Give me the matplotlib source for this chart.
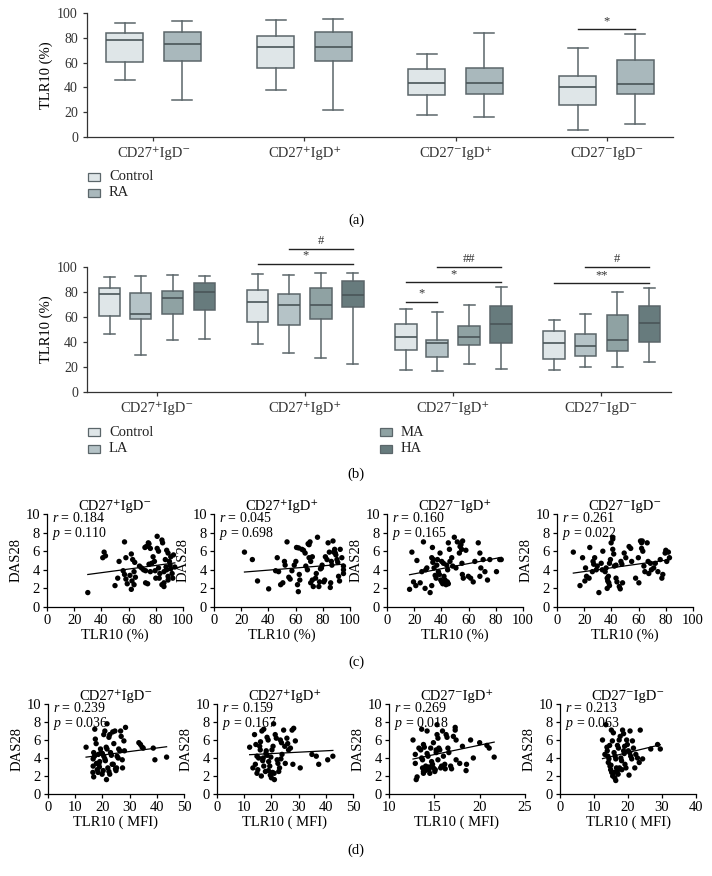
import numpy as np
import matplotlib
matplotlib.use('Agg')
import matplotlib.pyplot as plt
from matplotlib.patches import Rectangle

plt.rcParams['font.family'] = ['Liberation Serif', 'DejaVu Serif']
plt.rcParams['mathtext.fontset'] = 'custom'
plt.rcParams['mathtext.rm'] = 'Liberation Serif'
plt.rcParams['mathtext.it'] = 'Liberation Serif:italic'
plt.rcParams['axes.linewidth'] = 0.9
plt.rcParams['xtick.major.width'] = 0.9
plt.rcParams['ytick.major.width'] = 0.9

# ---------------- data ----------------
categories = ['CD27⁺IgD⁻', 'CD27⁺IgD⁺', 'CD27⁻IgD⁺', 'CD27⁻IgD⁻']

# (a) box stats per category: (whisker low, q1, median, q3, whisker high)
a_control = [(46.2, 60.5, 78.2, 83.6, 92.0), (38.2, 55.6, 72.3, 81.5, 94.4),
             (17.5, 33.6, 43.5, 54.8, 66.7), (5.9, 26.1, 40.3, 49.5, 72.0)]
a_ra = [(29.8, 61.3, 75.0, 84.7, 93.3), (21.8, 61.0, 72.3, 84.7, 95.4),
        (16.4, 34.7, 43.5, 55.4, 83.9), (10.8, 34.7, 42.7, 61.8, 83.0)]
a_sig = [(3, 0, 1, 87.0, '*')]  # (category, box i, box j, level, label)

# (b)
b_control = [(46.4, 60.6, 78.3, 83.6, 92.2), (38.3, 55.8, 72.4, 81.5, 94.1),
             (18.0, 33.8, 44.0, 54.7, 66.8), (18.0, 26.3, 39.1, 48.8, 57.6)]
b_la = [(30.0, 58.7, 62.2, 79.1, 92.5), (31.6, 53.9, 70.0, 78.3, 93.6),
        (16.6, 28.4, 38.9, 41.8, 63.8), (20.4, 29.2, 37.0, 46.6, 62.7)]
b_ma = [(41.8, 62.2, 75.1, 81.0, 93.3), (27.6, 58.2, 69.4, 83.4, 95.2),
        (22.3, 37.5, 43.7, 53.1, 70.0), (20.1, 33.2, 41.8, 61.7, 80.4)]
b_ha = [(42.1, 65.4, 80.4, 87.4, 92.5), (22.3, 67.8, 77.5, 88.5, 95.4),
        (18.2, 38.9, 54.2, 68.6, 83.9), (23.9, 39.7, 55.2, 68.6, 83.1)]
b_sig = [(1, 0, 3, 102.7, '*'), (1, 1, 3, 114.5, '#'),
         (2, 0, 1, 72.4, '*'), (2, 0, 3, 88.2, '*'), (2, 1, 3, 99.7, '##'),
         (3, 0, 3, 87.1, '**'), (3, 1, 3, 99.7, '#')]

# (c) DAS28 vs TLR10 (%)
c1_x = [30, 42, 41, 43, 50, 52, 53, 57, 56, 57, 58, 59, 58, 61, 62.5, 64, 62, 62, 63, 64.5, 64, 65, 68, 69.5,
        71, 72.5, 72, 73, 72.5, 74, 74.5, 75, 76, 75, 76, 77, 78, 79, 79.5, 80, 81, 81, 82, 82, 83, 82.5,
        84.5, 85, 84.5, 86, 86, 87, 87.5, 88, 88, 89, 90, 90.5, 91, 92, 92.5, 93, 94, 89, 89, 86, 91]
c1_y = [1.55, 5.9, 5.3, 5.5, 2.3, 3.1, 4.9, 7.0, 3.9, 3.5, 3.0, 2.5, 5.3, 3.4, 2.8, 2.4, 1.9, 5.7, 5.1, 4.8,
        3.8, 3.2, 4.4, 4.2, 4.0, 3.9, 6.4, 6.5, 2.6, 2.5, 6.9, 6.8, 6.3, 4.6, 3.8, 4.7, 5.4, 4.9, 3.9, 3.1,
        7.6, 6.3, 6.0, 4.2, 3.6, 3.1, 7.2, 6.9, 2.4, 2.2, 2.6, 5.1, 4.3, 4.0, 6.1, 5.8, 4.9, 4.5, 5.4, 3.6,
        3.1, 5.6, 4.3, 3.3, 2.9, 3.8, 4.1]
c2_x = [22.4, 28.2, 32, 40.2, 46.5, 45.3, 47.5, 49, 50.6, 52.3, 51.8, 53.7, 55, 56, 57.3, 59, 60.2, 60.7,
        62.2, 61.4, 62, 62.7, 63.1, 64.6, 65.8, 67, 67.5, 68.7, 69.2, 70.6, 69.9, 69.9, 71.1, 72.3, 71.1,
        72.3, 73, 74.7, 75.2, 76.1, 77.1, 77.6, 78.3, 79, 79.5, 80.7, 81.4, 81.9, 83.1, 83.9, 84.8, 85.5,
        85.8, 86.3, 86.7, 87.5, 88, 88.7, 89.2, 89.6, 90.4, 91, 91.6, 92.3, 94, 95.2, 95.2, 95.2, 92.8]
c2_y = [5.9, 5.1, 2.8, 1.95, 5.3, 3.9, 3.8, 2.4, 2.6, 4.5, 4.9, 7.0, 3.2, 3.0, 3.9, 4.5, 4.9, 6.4, 6.35,
        2.4, 1.65, 3.5, 2.9, 6.2, 6.1, 5.8, 4.4, 4.0, 6.8, 7.0, 6.7, 5.3, 4.9, 5.4, 2.6, 2.9, 2.2, 3.1, 3.6,
        7.5, 2.2, 2.7, 4.1, 4.2, 4.5, 2.7, 2.9, 5.4, 5.1, 6.9, 5.9, 2.1, 2.6, 4.9, 4.5, 7.1, 5.9, 6.2, 5.8,
        5.6, 5.1, 4.8, 3.3, 2.8, 5.3, 4.0, 3.6, 4.4, 6.2]
c3_x = [16.6, 18.3, 19.5, 21.2, 22, 24.4, 25.6, 26.8, 28, 28.5, 29.3, 31.7, 32.9, 33.4, 32.9, 34.1, 33.7,
        34.6, 35.4, 36.1, 36.6, 37.1, 37.8, 38.5, 39, 39.5, 40.2, 41, 40.2, 41.5, 41.9, 42.7, 43.4, 42.7,
        43.9, 44.6, 44.4, 45.1, 45.1, 45.9, 46.3, 47.6, 48.3, 49.5, 50.7, 51.7, 53.2, 53.7, 54.4, 54.9,
        55.6, 55.1, 55.4, 56.1, 58, 59.8, 61.5, 63.4, 64.6, 67.1, 68.3, 69, 68.3, 70.7, 72, 73.9, 75.6,
        80.5, 82.9, 84]
c3_y = [1.9, 5.9, 2.7, 2.3, 5.0, 2.6, 3.8, 7.0, 2.0, 4.0, 4.2, 1.55, 2.3, 6.4, 5.3, 5.1, 4.8, 4.2, 3.4,
        3.1, 4.5, 5.1, 3.8, 3.5, 5.8, 2.9, 2.7, 2.5, 4.9, 4.7, 3.3, 2.7, 2.4, 2.9, 4.5, 4.0, 2.7, 2.5, 6.9,
        6.2, 4.9, 5.3, 4.4, 7.5, 4.2, 7.0, 5.8, 6.5, 6.7, 6.2, 7.1, 4.7, 3.5, 3.1, 6.1, 3.3, 3.1, 2.7, 4.9,
        6.9, 5.8, 4.2, 3.3, 5.1, 3.8, 2.9, 5.1, 3.8, 5.1, 5.1]
c4_x = [12, 16.9, 18.8, 20.5, 21, 21.7, 23.6, 24.1, 26, 26.5, 27.7, 27, 28.9, 29.6, 30.8, 32.5, 33.3, 33.7,
        35.4, 36.1, 36.9, 37.3, 38.1, 38.6, 36.9, 37.8, 38.6, 39.3, 39.8, 41, 41, 41.7, 41, 42.2, 43.4, 43.4,
        44.1, 45.8, 46.5, 47, 47.7, 48.2, 49.4, 50.6, 53, 54.2, 54.9, 57.8, 59.8, 60.2, 61.4, 62.2, 62.7,
        62.2, 63.1, 63.9, 64.6, 66.3, 67, 67.5, 68.7, 69.4, 71.1, 72.3, 74.2, 75.9, 77.1, 77.8, 79.5, 80,
        80.7, 81.9, 82.7]
c4_y = [5.9, 2.3, 5.3, 2.8, 4.2, 3.3, 3.1, 6.4, 3.8, 4.9, 5.3, 4.6, 4.0, 4.4, 1.55, 4.7, 4.0, 6.0, 3.8,
        4.2, 3.1, 2.8, 2.6, 2.3, 2.0, 3.3, 4.7, 5.1, 6.9, 7.3, 6.2, 5.7, 7.5, 4.4, 4.5, 3.1, 2.7, 2.2, 1.95,
        4.9, 4.6, 2.6, 5.8, 5.3, 6.5, 6.3, 4.9, 3.1, 5.3, 2.6, 7.1, 6.9, 7.1, 6.3, 6.0, 4.4, 3.8, 6.9, 4.9,
        3.6, 4.7, 4.0, 4.2, 4.7, 3.8, 5.1, 3.1, 3.5, 5.8, 6.1, 4.9, 5.9, 5.3]

# (d) DAS28 vs TLR10 (MFI)
d1_x = [14.0, 16.6, 16.5, 16.8, 17.2, 16.8, 17.1, 16.6, 17.4, 17.7, 18.1, 18.4, 18.7, 18.9, 19.3, 19.5,
        19.9, 20.3, 20.5, 20.9, 20.5, 20.9, 21.1, 21.4, 21.7, 21.7, 21.5, 22, 22.4, 22.7, 22.4, 22.7, 23,
        23.3, 23.6, 24, 24.2, 24.6, 24.8, 25.2, 25.4, 25.8, 26, 26.4, 26.9, 27.3, 27.9, 28.1, 27.4, 28.5,
        26.7, 33.4, 34, 34.6, 35, 38.7, 39.3, 43.6, 18.5, 19.0, 23.8, 25.0, 17.8, 20.0]
d1_y = [5.2, 3.1, 2.4, 1.9, 7.2, 4.6, 4.2, 3.9, 6.1, 5.6, 2.7, 2.4, 3.3, 3.0, 5.0, 4.6, 2.2, 2.6, 6.6, 7.0,
        4.2, 3.9, 3.7, 5.2, 5.0, 7.8, 1.6, 2.9, 2.5, 2.2, 6.3, 6.6, 4.6, 4.3, 3.3, 3.3, 5.6, 7.0, 2.8, 2.9,
        4.2, 4.0, 5.0, 4.8, 6.4, 3.8, 5.9, 4.8, 2.9, 7.4, 7.0, 5.7, 5.5, 5.2, 5.1, 5.1, 3.8, 4.1, 4.4, 3.6,
        6.9, 2.6, 3.4, 4.5]
d2_x = [12, 13.8, 14.1, 14.7, 14.7, 15.3, 15.7, 15.9, 16.3, 16.5, 17.2, 17.2, 17.8, 18, 18.4, 18.4, 18.8,
        19, 19.4, 19.6, 20, 20.2, 20.6, 20.8, 21.1, 21.4, 21.8, 22.1, 22.4, 22.7, 23, 23.3, 23.7, 23.9,
        24.5, 24.9, 25.1, 25.7, 26.3, 27, 27.6, 28.2, 27.9, 28.8, 30.6, 34.9, 36.5, 37.4, 40.7, 42.6, 13.2,
        15.0, 16.0, 17.0, 18.9, 19.8, 21.0, 23.5, 26.0, 14.3, 16.8, 18.1, 20.4]
d2_y = [5.2, 6.6, 3.3, 2.3, 4.2, 4.0, 5.3, 4.9, 2.0, 7.0, 7.2, 3.1, 2.5, 4.5, 4.3, 6.3, 6.0, 3.6, 3.1, 2.1,
        1.8, 4.9, 5.3, 7.8, 1.6, 6.6, 6.2, 3.8, 3.4, 2.5, 2.9, 6.0, 5.7, 4.4, 7.1, 5.3, 3.4, 6.2, 4.9, 5.1,
        7.1, 7.3, 3.3, 5.9, 2.9, 4.4, 4.2, 3.3, 3.8, 4.2, 2.9, 2.7, 5.8, 4.0, 2.6, 4.1, 2.3, 3.9, 5.6, 5.5,
        3.7, 4.8, 2.4]
d3_x = [12.65, 12.9, 12.9, 13, 13.1, 13.3, 13.5, 13.6, 13.6, 13.7, 13.7, 13.8, 13.8, 13.8, 13.9, 14.05,
        14.1, 14.2, 14.2, 14.3, 14.4, 14.5, 14.6, 14.7, 14.8, 14.9, 14.9, 15.05, 15.2, 15.2, 15.3, 15.3,
        15.4, 15.4, 15.5, 15.6, 15.7, 15.8, 15.9, 16.0, 16.15, 16.3, 16.4, 16.5, 16.6, 16.8, 16.9, 17.3,
        17.3, 17.1, 17.4, 17.4, 17.8, 18.1, 18.55, 19.0, 19.3, 20, 20.8, 21.05, 21.6, 18.5, 14.0, 14.4,
        15.1, 16.2]
d3_y = [6.0, 4.4, 3.4, 1.6, 1.9, 5.1, 4.9, 7.2, 4.0, 3.8, 2.9, 2.5, 2.3, 5.5, 5.2, 3.1, 2.9, 7.0, 4.5,
        4.2, 2.7, 2.3, 5.1, 3.6, 3.3, 2.9, 5.7, 2.5, 4.9, 4.6, 7.7, 6.6, 6.2, 3.8, 5.1, 4.9, 2.9, 3.1, 7.0,
        4.2, 3.3, 6.6, 6.3, 5.1, 4.6, 3.1, 2.8, 7.1, 7.4, 6.4, 6.0, 3.8, 3.4, 5.3, 3.3, 6.0, 4.0, 5.7, 5.4,
        5.1, 4.1, 2.6, 2.6, 3.0, 2.7, 2.8]
d4_x = [12.5, 13.5, 13.8, 13.9, 14.1, 14.4, 14.2, 14.7, 14.9, 15.2, 15.1, 15.7, 15.4, 15.9, 16.2, 16.4,
        16.1, 16.4, 16.6, 16.9, 17.1, 16.9, 17.2, 17.4, 17.7, 17.9, 18.1, 18.4, 18.7, 18.7, 18.9, 19.1,
        19.4, 19.6, 19.8, 20.1, 20.3, 20.6, 20.8, 21.1, 21.3, 21.6, 22, 22.3, 22.8, 23.3, 23.6, 24.3,
        26.7, 28.7, 29.5, 13.2, 14.6, 15.5, 17.5, 19.0, 20.5, 15.0, 16.0, 18.2]
d4_y = [6.0, 7.7, 5.2, 4.8, 4.2, 3.9, 3.5, 3.1, 2.7, 2.4, 7.1, 6.8, 5.9, 4.6, 4.2, 3.9, 1.8, 1.5, 2.9, 2.6,
        2.2, 5.4, 5.1, 6.0, 6.4, 4.0, 3.7, 7.1, 6.7, 4.8, 4.5, 3.3, 2.9, 6.0, 5.5, 4.8, 2.1, 7.0, 4.2, 3.9,
        5.9, 5.1, 2.9, 4.4, 4.0, 3.5, 7.1, 3.9, 5.0, 5.5, 5.0, 4.4, 5.4, 2.0, 2.9, 5.3, 4.6, 3.2, 2.4, 2.7]

# fitted lines: (intercept, slope)
c_fits = [(2.91, 0.0195), (3.50, 0.0116), (3.01, 0.0277), (3.40, 0.0204)]
d_fits = [(3.55, 0.039), (4.18, 0.0155), (1.23, 0.21), (2.80, 0.0904)]
c_stats = [('0.184', '0.110'), ('0.045', '0.698'), ('0.160', '0.165'), ('0.261', '0.022')]
d_stats = [('0.239', '0.036'), ('0.159', '0.167'), ('0.269', '0.018'), ('0.213', '0.063')]
d_xlims = [(0, 50), (0, 50), (10, 25), (0, 40)]
d_xticks = [[0, 10, 20, 30, 40, 50], [0, 10, 20, 30, 40, 50], [10, 15, 20, 25], [0, 10, 20, 30, 40]]

# ---------------- styling ----------------
W, H = 712, 876
edge = '#5b666a'
a_colors = ['#dfe6e8', '#a9b8bc']
b_colors = ['#dfe6e8', '#b5c3c7', '#8fa2a3', '#677b7d']

fig = plt.figure(figsize=(W / 100, H / 100), dpi=100)


def px_axes(left, top, right, bottom):
    return fig.add_axes([left / W, 1 - bottom / H, (right - left) / W, (bottom - top) / H])


def stats_of(t):
    lo, q1, med, q3, hi = t
    return dict(whislo=lo, q1=q1, med=med, q3=q3, whishi=hi, fliers=[])


def style_box_axes(ax, xlim):
    ax.set_xlim(*xlim)
    ax.set_ylim(0, 100)
    for s in ['top', 'right']:
        ax.spines[s].set_visible(False)
    for s in ['left', 'bottom']:
        ax.spines[s].set_color('#333333')
    ax.set_yticks([0, 20, 40, 60, 80, 100])
    ax.set_xticks(range(len(categories)))
    ax.set_xticklabels(categories)
    ax.tick_params(axis='both', length=3, colors='#333333', labelsize=10)
    ax.tick_params(axis='x', labelsize=10.5, pad=4)
    ax.set_ylabel('TLR10 (%)', fontsize=10.5)
    ax.yaxis.set_label_coords(-0.058, 0.5)


def draw_boxes(ax, series, colors, offsets, width, capw):
    for k, (ser, col) in enumerate(zip(series, colors)):
        pos = [i + offsets[k] for i in range(len(ser))]
        ax.bxp([stats_of(t) for t in ser], positions=pos, widths=width, capwidths=capw,
               patch_artist=True, showfliers=False,
               boxprops=dict(facecolor=col, edgecolor=edge, linewidth=1.1),
               medianprops=dict(color='#4a5558', linewidth=1.2),
               whiskerprops=dict(color=edge, linewidth=1.1),
               capprops=dict(color=edge, linewidth=1.1))


def draw_sig(ax, sigs, offsets):
    for cat, i, j, level, label in sigs:
        x1, x2 = cat + offsets[i], cat + offsets[j]
        ax.plot([x1, x2], [level, level], color='#222222', lw=1.0, clip_on=False)
        ax.text((x1 + x2) / 2, level + 1.5, label, ha='center', va='bottom', fontsize=9,
                color='#333333', clip_on=False)


def legend_entry(x, y, color, label):
    fig.add_artist(Rectangle((x / W, 1 - (y + 4) / H), 12 / W, 8 / H, transform=fig.transFigure,
                             facecolor=color, edgecolor=edge, linewidth=0.9))
    fig.text((x + 21) / W, 1 - y / H, label, va='center', ha='left', fontsize=10.5, color='#222222')


# ---------------- (a) ----------------
ax_a = px_axes(87, 13, 673, 137)
a_off = [-0.19, 0.19]
draw_boxes(ax_a, [a_control, a_ra], a_colors, a_off, 0.245, 0.13)
style_box_axes(ax_a, (-0.44, 3.44))
draw_sig(ax_a, a_sig, a_off)
legend_entry(88, 177, a_colors[0], 'Control')
legend_entry(88, 193, a_colors[1], 'RA')
fig.text(0.5, 1 - 220 / H, '(a)', ha='center', va='center', fontsize=10.5)

# ---------------- (b) ----------------
ax_b = px_axes(87, 267, 671, 392)
b_off = [-0.318, -0.108, 0.108, 0.324]
draw_boxes(ax_b, [b_control, b_la, b_ma, b_ha], b_colors, b_off, 0.145, 0.075)
style_box_axes(ax_b, (-0.47, 3.47))
draw_sig(ax_b, b_sig, b_off)
legend_entry(88, 432, b_colors[0], 'Control')
legend_entry(88, 449, b_colors[1], 'LA')
legend_entry(380, 432, b_colors[2], 'MA')
legend_entry(380, 449, b_colors[3], 'HA')
fig.text(0.5, 1 - 474 / H, '(b)', ha='center', va='center', fontsize=10.5)


# ---------------- scatter panels ----------------
def scatter_panel(ax, x, y, fit, stat, title, xlim, xticks, xlabel):
    x = np.asarray(x)
    ax.scatter(x, y, s=15, color='black', edgecolors='none', zorder=3)
    xs = np.array([x.min(), x.max()])
    ax.plot(xs, fit[0] + fit[1] * xs, color='black', lw=0.9, zorder=2)
    ax.set_xlim(*xlim)
    ax.set_ylim(0, 10)
    ax.set_xticks(xticks)
    ax.set_yticks([0, 2, 4, 6, 8, 10])
    for s in ['top', 'right']:
        ax.spines[s].set_visible(False)
    ax.tick_params(axis='both', length=3, labelsize=10.5, pad=2)
    ax.set_title(title, fontsize=10.5, pad=3)
    ax.set_ylabel('DAS28', fontsize=10.5, labelpad=2)
    ax.set_xlabel(xlabel, fontsize=10.5, labelpad=1)
    ax.text(0.035, 1.03, '$r$ = %s\n$p$ = %s' % stat, transform=ax.transAxes, ha='left', va='top',
            fontsize=10, linespacing=0.95)


c_x = [c1_x, c2_x, c3_x, c4_x]
c_y = [c1_y, c2_y, c3_y, c4_y]
d_x = [d1_x, d2_x, d3_x, d4_x]
d_y = [d1_y, d2_y, d3_y, d4_y]
c_lefts = [47, 214, 387, 557]
d_lefts = [48, 217, 389, 560]

for k in range(4):
    ax = px_axes(c_lefts[k], 514, c_lefts[k] + 136, 607)
    scatter_panel(ax, c_x[k], c_y[k], c_fits[k], c_stats[k], categories[k], (0, 100),
                  [0, 20, 40, 60, 80, 100], 'TLR10 (%)')
    ax = px_axes(d_lefts[k], 704, d_lefts[k] + 136, 794)
    scatter_panel(ax, d_x[k], d_y[k], d_fits[k], d_stats[k], categories[k], d_xlims[k],
                  d_xticks[k], 'TLR10 ( MFI)')

fig.text(0.5, 1 - 662 / H, '(c)', ha='center', va='center', fontsize=10.5)
fig.text(0.5, 1 - 850 / H, '(d)', ha='center', va='center', fontsize=10.5)

fig.savefig('out.png', dpi=100)
